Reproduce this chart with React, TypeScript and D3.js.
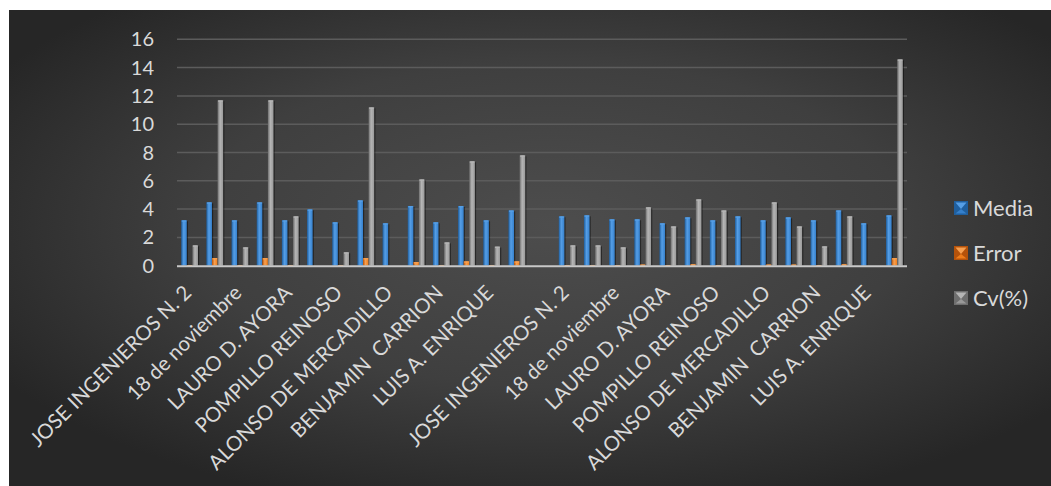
import React from "react";
import * as d3 from "d3";

const categories: string[] = [
  "JOSE INGENIEROS N. 2", "JOSE INGENIEROS N. 2",
  "18 de noviembre", "18 de noviembre",
  "LAURO D. AYORA", "LAURO D. AYORA",
  "POMPILLO REINOSO", "POMPILLO REINOSO",
  "ALONSO DE MERCADILLO", "ALONSO DE MERCADILLO",
  "BENJAMIN  CARRION", "BENJAMIN  CARRION",
  "LUIS A. ENRIQUE", "LUIS A. ENRIQUE",
  "",
  "JOSE INGENIEROS N. 2", "JOSE INGENIEROS N. 2",
  "18 de noviembre", "18 de noviembre",
  "LAURO D. AYORA", "LAURO D. AYORA",
  "POMPILLO REINOSO", "POMPILLO REINOSO",
  "ALONSO DE MERCADILLO", "ALONSO DE MERCADILLO",
  "BENJAMIN  CARRION", "BENJAMIN  CARRION",
  "LUIS A. ENRIQUE", "LUIS A. ENRIQUE",
];

const media: number[] = [
  3.21, 4.48, 3.21, 4.48, 3.21, 3.98, 3.07, 4.62, 3.0, 4.22, 3.07, 4.22, 3.21, 3.91,
  0,
  3.49, 3.56, 3.28, 3.28, 3.0, 3.42, 3.21, 3.49, 3.21, 3.42, 3.21, 3.91, 3.0, 3.56,
];
const error: number[] = [
  0.05, 0.54, 0.05, 0.54, 0.05, 0.0, 0.05, 0.54, 0.0, 0.26, 0.05, 0.31, 0.05, 0.31,
  0,
  0.05, 0.05, 0.05, 0.08, 0.05, 0.1, 0.05, 0.0, 0.08, 0.08, 0.05, 0.1, 0.0, 0.54,
];
const cv: number[] = [
  1.44, 11.69, 1.3, 11.69, 3.49, 0, 0.95, 11.19, 0, 6.1, 1.65, 7.38, 1.35, 7.8,
  0,
  1.44, 1.44, 1.3, 4.13, 2.78, 4.69, 3.91, 0, 4.48, 2.78, 1.37, 3.49, 0, 14.58,
];

const seriesNames: string[] = ["Media", "Error", "Cv(%)"];
const yTicks: number[] = [0, 2, 4, 6, 8, 10, 12, 14, 16];

const W = 1051;
const H = 486;
const FONT = "Lato, 'Noto Sans', sans-serif";
const TEXT = "#d9d9d9";

const colors = [
  { dark: "#1f5f9f", mid: "#3580cc", light: "#559ee6", id: "gBlue" },
  { dark: "#b5520a", mid: "#ef7d1a", light: "#f7a050", id: "gOrange" },
  { dark: "#6e6e6e", mid: "#999999", light: "#b5b5b5", id: "gGray" },
];

export default function App() {
  const x = d3
    .scaleBand<number>()
    .domain(d3.range(categories.length))
    .range([177, 907])
    .paddingInner(0)
    .paddingOuter(0);
  const xs = d3
    .scaleBand<number>()
    .domain([0, 1, 2])
    .range([0, x.bandwidth()])
    .paddingInner(0)
    .paddingOuter(0.75);
  const y = d3.scaleLinear().domain([0, 16]).range([265.7, 39.3]);
  const series = [media, error, cv];
  const bw = xs.bandwidth();

  const labelIdx = categories
    .map((c, i) => (c !== "" && (i === 0 || categories[i - 1] !== c) ? i : -1))
    .filter((i) => i >= 0);

  return (
    <svg
      width={W}
      height={H}
      style={{ position: "absolute", left: 0, top: 0 }}
      fontFamily={FONT}
    >
      <defs>
        <radialGradient id="bg" cx="0.52" cy="0.45" r="0.62">
          <stop offset="0" stopColor="#4d4d4d" />
          <stop offset="0.55" stopColor="#3f3f3f" />
          <stop offset="1" stopColor="#262626" />
        </radialGradient>
        {colors.map((c) => (
          <linearGradient key={c.id} id={c.id} x1="0" x2="1" y1="0" y2="0">
            <stop offset="0" stopColor={c.dark} />
            <stop offset="0.45" stopColor={c.light} />
            <stop offset="1" stopColor={c.mid} />
          </linearGradient>
        ))}
      </defs>
      <rect x={0} y={0} width={W} height={H} fill="#ffffff" />
      <rect x={9} y={10} width={W - 9} height={H - 10} fill="url(#bg)" />

      {yTicks.map((t) => (
        <g key={t}>
          {t > 0 && (
            <line
              x1={177}
              x2={907}
              y1={y(t)}
              y2={y(t)}
              stroke="#5c5c5c"
              strokeWidth={1.5}
            />
          )}
          <text
            x={154}
            y={y(t)}
            dy="0.35em"
            textAnchor="end"
            fontSize={20}
            fill={TEXT}
          >
            {t}
          </text>
        </g>
      ))}

      {series.map((vals, s) =>
        vals.map((v, i) => {
          if (v <= 0) return null;
          const bx = (x(i) as number) + (xs(s) as number);
          const top = y(v);
          const h = y(0) - top;
          return (
            <g key={`${s}-${i}`}>
              <rect
                x={bx + 1.2}
                y={top + 1}
                width={bw}
                height={h - 1}
                fill="#000"
                opacity={0.45}
              />
              <rect x={bx} y={top} width={bw} height={h} fill={`url(#${colors[s].id})`} />
              <rect
                x={bx + 0.5}
                y={top}
                width={bw - 1}
                height={Math.min(1.5, h)}
                fill={colors[s].light}
                opacity={0.9}
              />
            </g>
          );
        })
      )}

      <line x1={177} x2={907} y1={y(0) + 0.5} y2={y(0) + 0.5} stroke="#c8c8c8" strokeWidth={2} />

      {labelIdx.map((i) => {
        const cx = (x(i) as number) + x.bandwidth() / 2 + 3;
        const cy = 294;
        return (
          <text
            key={i}
            transform={`translate(${cx},${cy}) rotate(-45)`}
            textAnchor="end"
            fontSize={20.5}
            fill={TEXT}
            style={{ whiteSpace: "pre" }}
          >
            {categories[i]}
          </text>
        );
      })}

      {seriesNames.map((name, s) => {
        const lx = 954;
        const ly = 201 + s * 45;
        const sz = 14;
        const c = colors[s];
        return (
          <g key={name}>
            <rect x={lx} y={ly} width={sz} height={sz} fill={c.dark} />
            <polygon
              points={`${lx + 1.5},${ly + 1.5} ${lx + sz - 1.5},${ly + 1.5} ${lx + sz / 2},${ly + sz / 2 + 1}`}
              fill={c.light}
            />
            <polygon
              points={`${lx + 1.5},${ly + sz - 1.5} ${lx + sz - 1.5},${ly + sz - 1.5} ${lx + sz / 2},${ly + sz / 2 + 1}`}
              fill={c.mid}
            />
            <text x={973} y={ly + sz / 2} dy="0.36em" fontSize={22} fill={TEXT}>
              {name}
            </text>
          </g>
        );
      })}
    </svg>
  );
}
